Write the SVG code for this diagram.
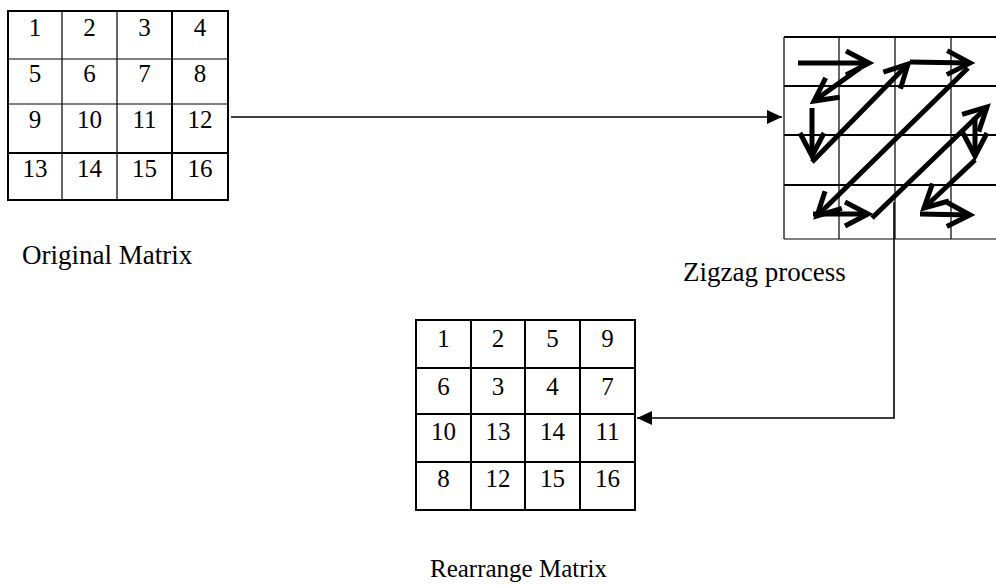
<svg xmlns="http://www.w3.org/2000/svg" width="996" height="586" viewBox="0 0 996 586">
<style>
.num{font-family:"Liberation Serif","Times New Roman",serif;font-size:25px;fill:#000;text-anchor:middle}
.lbl{font-family:"Liberation Serif","Times New Roman",serif;font-size:27px;fill:#000}
.thin{stroke:#000;stroke-width:1.2;fill:none}
.thick{stroke:#000;stroke-width:2;fill:none}
.zz{stroke:#000;stroke-width:5;fill:none;marker-end:url(#vee)}
.conn{stroke:#000;stroke-width:1.6;fill:none;marker-end:url(#tri)}
</style>
<defs>
<marker id="vee" markerUnits="userSpaceOnUse" markerWidth="40" markerHeight="40" viewBox="-30 -20 40 40" refX="0" refY="0" orient="auto" overflow="visible">
<path d="M-23,-12 L0,0 L-23,12" fill="none" stroke="#000" stroke-width="5" stroke-linejoin="miter"/>
</marker>
<marker id="tri" markerUnits="userSpaceOnUse" markerWidth="20" markerHeight="20" viewBox="-18 -10 20 20" refX="0" refY="0" orient="auto" overflow="visible">
<path d="M0,0 L-15,-7 L-15,7 Z" fill="#000"/>
</marker>
</defs>
<rect width="996" height="586" fill="#fff"/>

<g id="original-matrix">
<path class="thin" d="M62,11V200M117,11V200M8,59H228M8,104H228"/>
<path class="thick" d="M172,11V200M8,153H228"/>
<rect class="thick" x="8" y="11" width="220" height="189"/>
<text class="num" x="35" y="36">1</text><text class="num" x="89.5" y="36">2</text><text class="num" x="144.5" y="36">3</text><text class="num" x="200" y="36">4</text>
<text class="num" x="35" y="82">5</text><text class="num" x="89.5" y="82">6</text><text class="num" x="144.5" y="82">7</text><text class="num" x="200" y="82">8</text>
<text class="num" x="35" y="128">9</text><text class="num" x="89.5" y="128">10</text><text class="num" x="144.5" y="128">11</text><text class="num" x="200" y="128">12</text>
<text class="num" x="35" y="177">13</text><text class="num" x="89.5" y="177">14</text><text class="num" x="144.5" y="177">15</text><text class="num" x="200" y="177">16</text>
<text class="lbl" x="22" y="264">Original Matrix</text>
</g>

<g id="zigzag-process">
<path class="thin" d="M784,37V239M839,37V239M895,37V239M951,37V239M784,239H996"/>
<path class="thick" d="M784,37H996M784,86H996M784,135H996M784,185H996"/>
<path class="zz" d="M798,63L869,63"/>
<path class="zz" d="M860,68L814,101"/>
<path class="zz" d="M812,108L812,156"/>
<path class="zz" d="M812,162L908,64"/>
<path class="zz" d="M910,62L970,63"/>
<path class="zz" d="M968,68L817,216"/>
<path class="zz" d="M813,214L868,214"/>
<path class="zz" d="M872,218L987,107"/>
<path class="zz" d="M975,117L975,156"/>
<path class="zz" d="M975,160L924,208"/>
<path class="zz" d="M920,214L970,215"/>
<text class="lbl" x="683" y="281">Zigzag process</text>
</g>

<g id="rearranged-matrix">
<path class="thick" d="M471,320V510M525,320V510M580,320V510M416,368H635M416,414H635M416,462H635"/>
<rect class="thick" x="416" y="320" width="219" height="190"/>
<text class="num" x="443.5" y="347">1</text><text class="num" x="498" y="347">2</text><text class="num" x="552.5" y="347">5</text><text class="num" x="607.5" y="347">9</text>
<text class="num" x="443.5" y="395">6</text><text class="num" x="498" y="395">3</text><text class="num" x="552.5" y="395">4</text><text class="num" x="607.5" y="395">7</text>
<text class="num" x="443.5" y="440">10</text><text class="num" x="498" y="440">13</text><text class="num" x="552.5" y="440">14</text><text class="num" x="607.5" y="440">11</text>
<text class="num" x="443.5" y="487">8</text><text class="num" x="498" y="487">12</text><text class="num" x="552.5" y="487">15</text><text class="num" x="607.5" y="487">16</text>
<text class="lbl" x="430" y="577" style="font-size:25px">Rearrange Matrix</text>
</g>

<g id="connectors">
<path class="conn" d="M231,117H782"/>
<path class="conn" d="M894,202V418H637"/>
</g>
</svg>
